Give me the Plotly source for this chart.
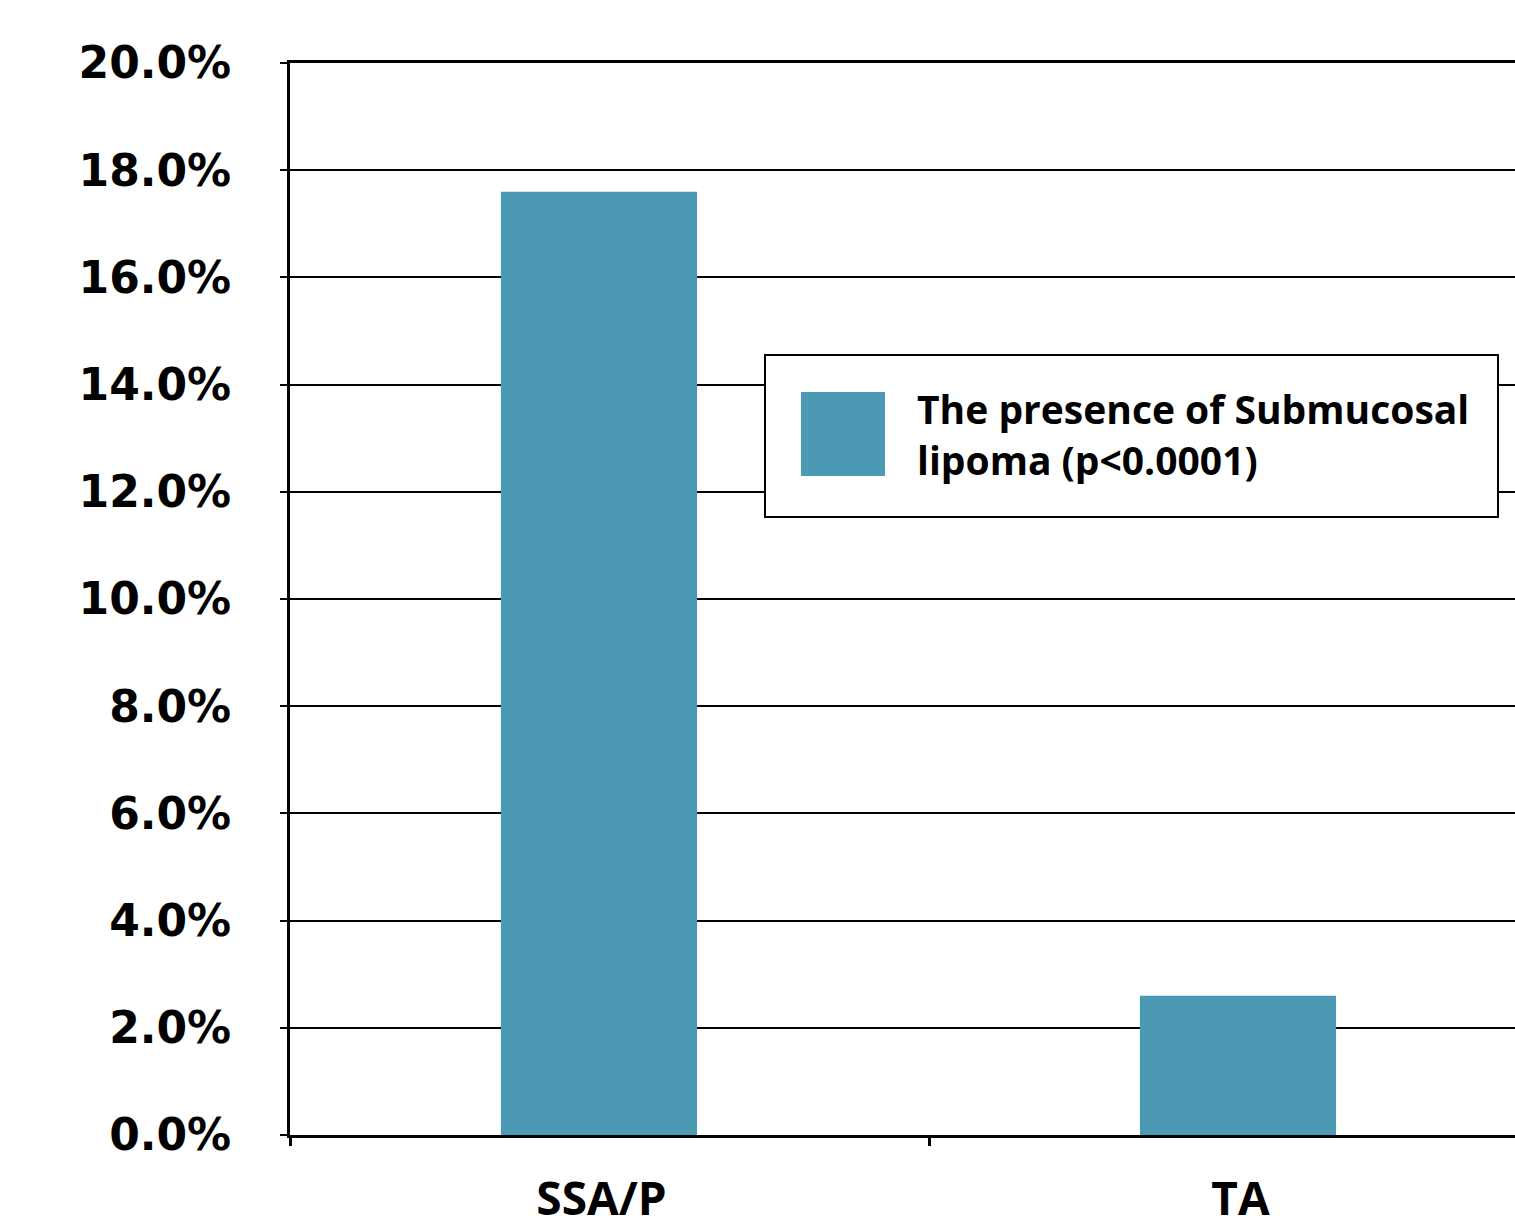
import plotly.graph_objects as go

categories = ["SSA/P", "TA"]
values = [17.6, 2.6]
series_name = "The presence of Submucosal<br>lipoma (p<0.0001)"
y_ticks = [0, 2, 4, 6, 8, 10, 12, 14, 16, 18, 20]
y_tick_labels = [f"{v:.1f}%" for v in y_ticks]

BAR = "#4C99B3"
FONT = "Open Sans"
TICKFONT = "DejaVu Sans"

fig = go.Figure()
fig.add_trace(go.Bar(
    x=categories, y=values, name=series_name,
    marker=dict(color=BAR, line=dict(width=0)),
    width=0.307, offset=-0.17, showlegend=False,
))

W, H = 1515, 1232
L, R, T, B = 290, 0, 63, 97
pw, ph = W - L - R, H - T - B

def px(x):
    return (x - L) / pw

def py(y):
    return (H - B - y) / ph

fig.update_layout(
    width=W, height=H,
    margin=dict(l=L, r=R, t=T, b=B, autoexpand=False),
    paper_bgcolor="white", plot_bgcolor="white",
    font=dict(family=FONT, color="black"),
    xaxis=dict(
        type="category", range=[-0.5, 1.417],
        showline=True, mirror=True, linecolor="black", linewidth=3,
        ticks="outside", tickson="boundaries", ticklen=8, tickwidth=3, tickcolor="black",
        showgrid=False, ticklabelstandoff=22, ticklabelshift=-8,
        tickfont=dict(family=FONT, size=46, color="black", weight="bold"),
    ),
    yaxis=dict(
        range=[0, 20], tickvals=y_ticks, ticktext=y_tick_labels,
        showline=True, linecolor="black", linewidth=3,
        ticks="outside", ticklen=7, tickwidth=2, tickcolor="black",
        showgrid=True, gridcolor="black", gridwidth=2, zeroline=False,
        ticklabelstandoff=40,
        tickfont=dict(family=TICKFONT, size=44, color="black", weight="bold"),
    ),
    shapes=[
        dict(type="rect", xref="paper", yref="paper",
             x0=px(765), x1=px(1498), y0=py(517), y1=py(355),
             line=dict(color="black", width=2), fillcolor="white", layer="above"),
        dict(type="rect", xref="paper", yref="paper",
             x0=px(801), x1=px(885), y0=py(476), y1=py(392),
             line=dict(width=0), fillcolor=BAR, layer="above"),
    ],
    annotations=[
        dict(xref="paper", yref="paper", x=px(915), y=py(434),
             xanchor="left", yanchor="middle", align="left", showarrow=False,
             text="<b>" + series_name + "</b>",
             font=dict(family=FONT, size=39, color="black")),
    ],
)

fig.write_html(
    "out.html",
    config={"displayModeBar": False},
    post_script="document.body.style.margin='0';document.body.style.overflow='hidden';",
)
